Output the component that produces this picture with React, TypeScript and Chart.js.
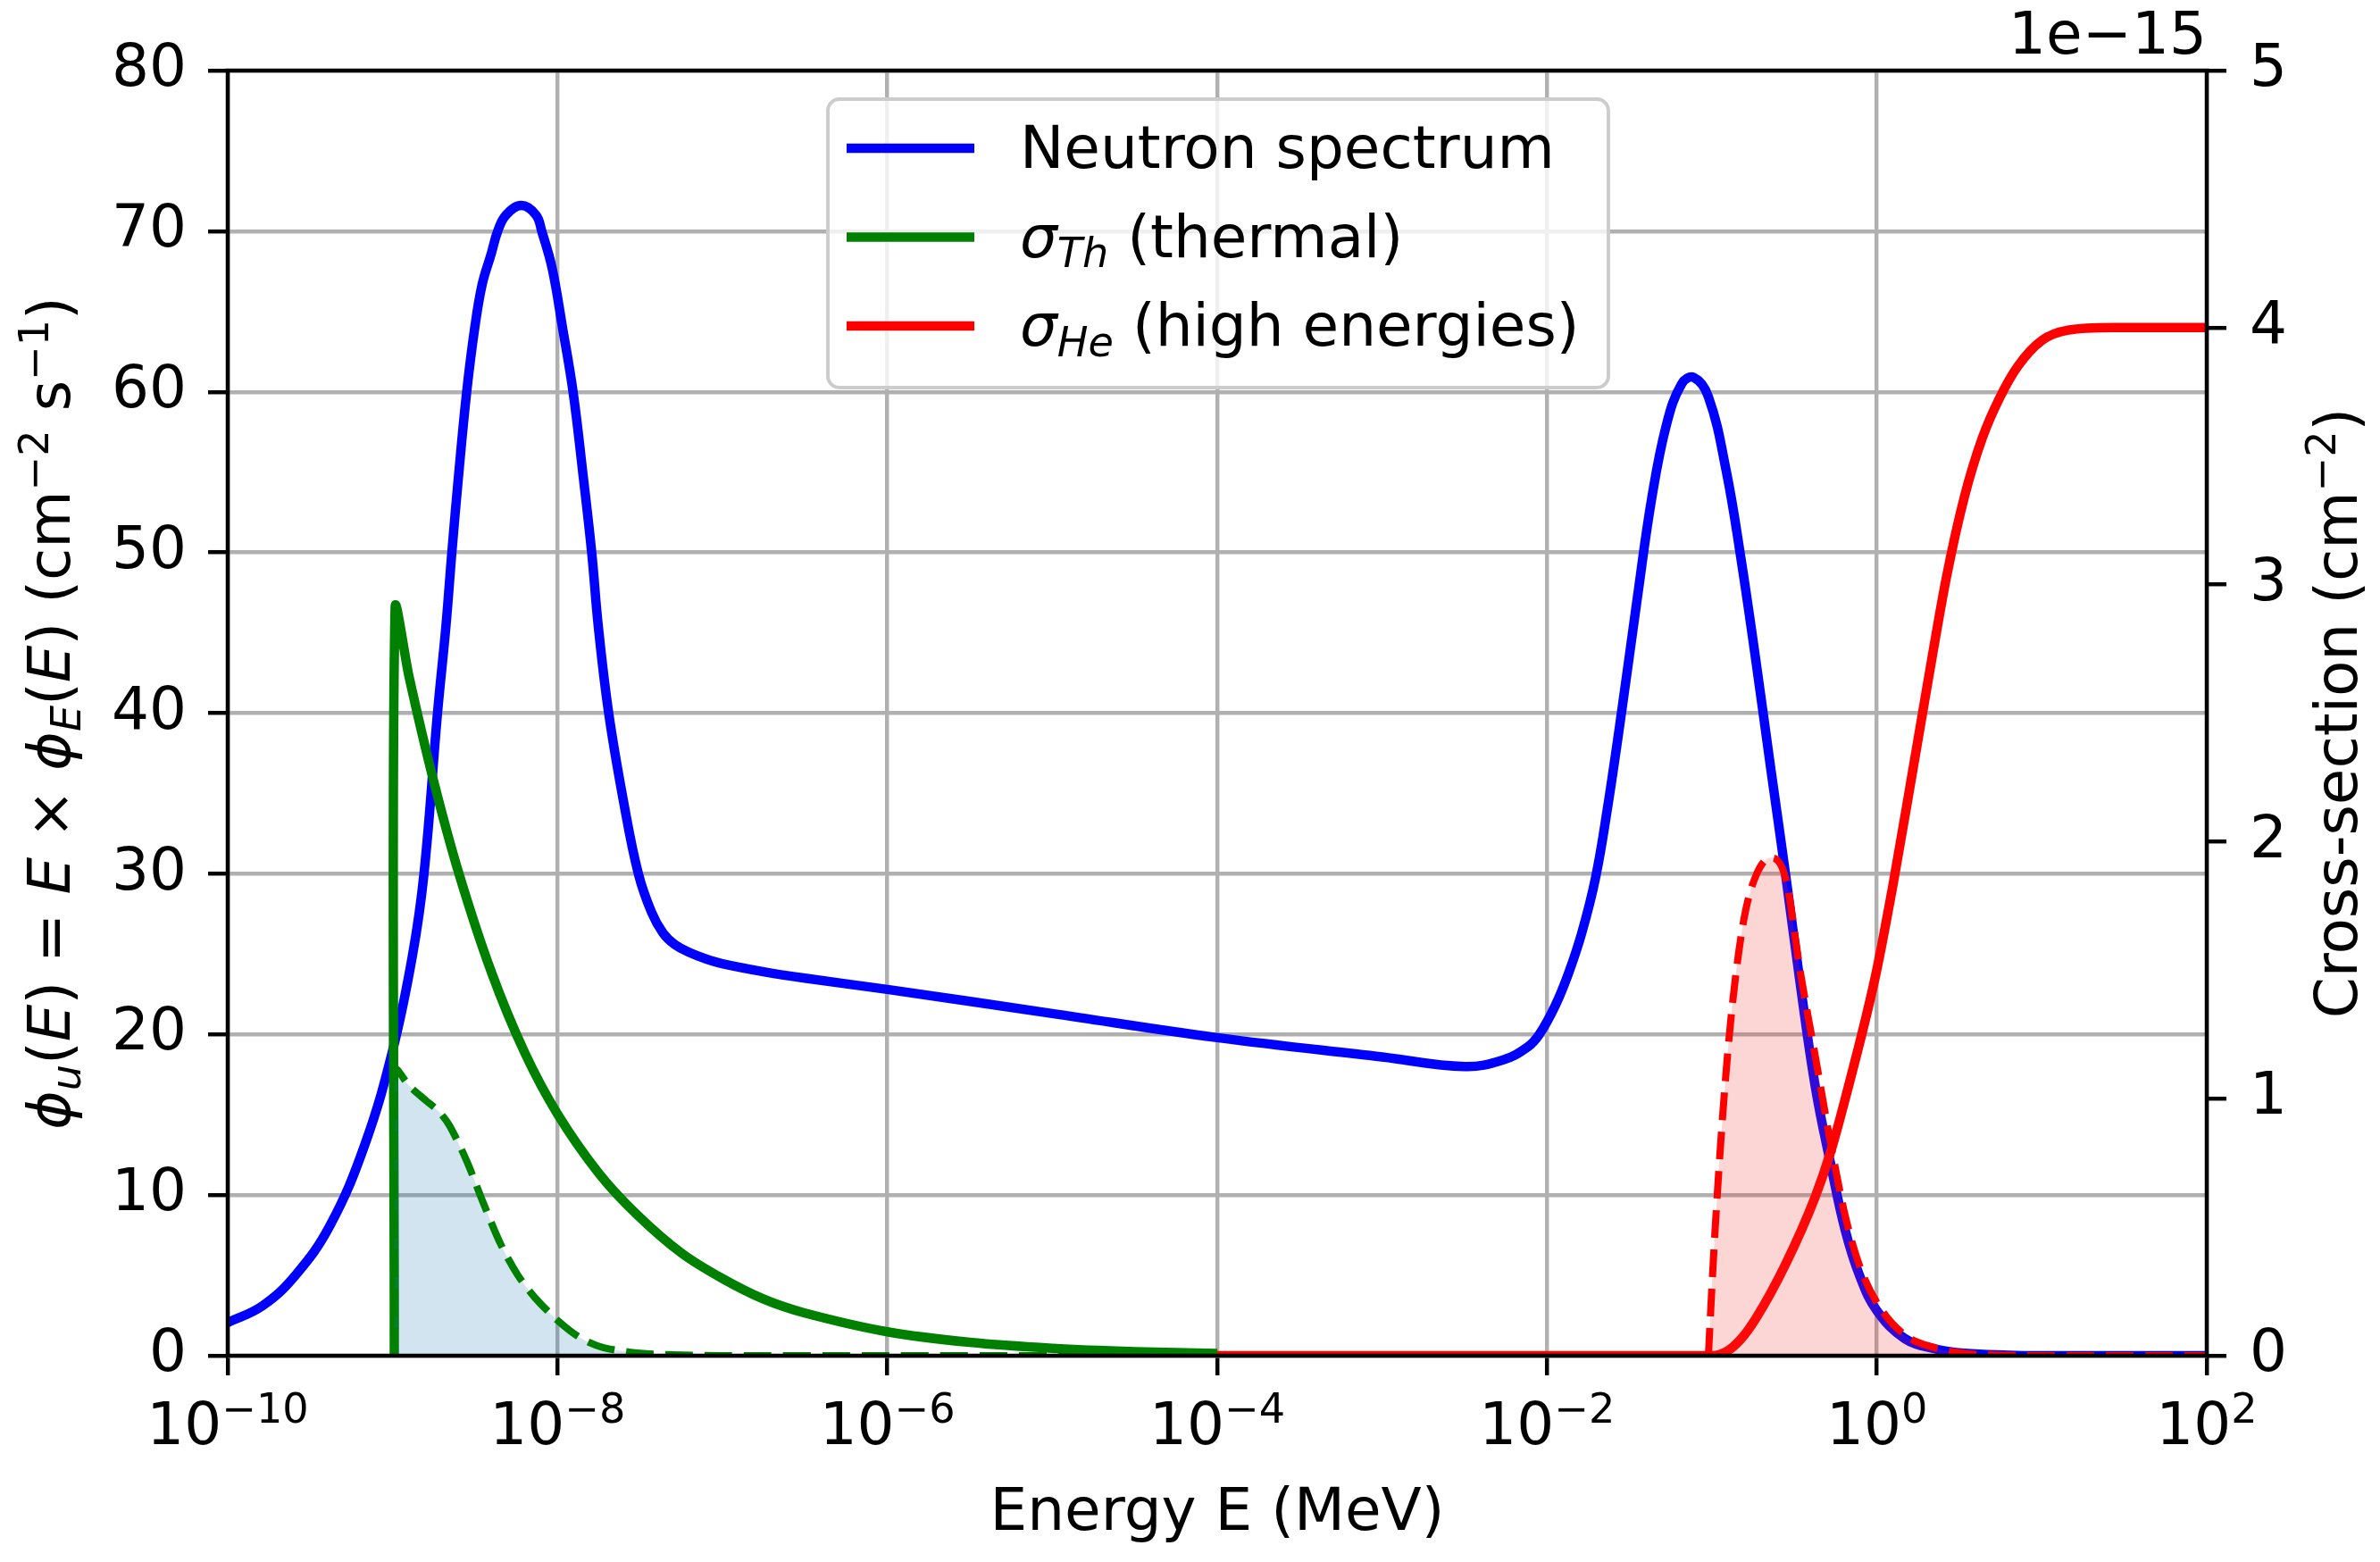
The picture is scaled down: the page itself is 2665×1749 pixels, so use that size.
import { useEffect, useRef } from 'react';
import { Chart, registerables } from 'chart.js';

Chart.register(...registerables);

const W = 2665;
const H = 1749;
const FONT = '"DejaVu Sans"';

// Neutron spectrum, E x phi_E(E) (cm^-2 s^-1) against log10(E / MeV)
const SPECTRUM_LOG_E = [
  -10, -9.79, -9.59, -9.38, -9.17, -9.0, -8.88, -8.81, -8.728, -8.677, -8.641, -8.601, -8.551,
  -8.502, -8.457, -8.402, -8.363, -8.313, -8.219, -8.13, -8.096, -8.033, -7.97, -7.906, -7.844,
  -7.793, -7.753, -7.69, -7.6, -7.51, -7.43, -7.36, -7.29, -7.2, -7.1, -7.0, -6.75, -6.5, -6.0,
  -5.0, -4.0, -3.0, -2.5, -2.27, -2.12, -2.047, -1.95, -1.87, -1.79, -1.707, -1.635, -1.545,
  -1.455, -1.365, -1.275, -1.184, -1.112, -1.022, -0.914, -0.824, -0.733, -0.643, -0.553,
  -0.463, -0.373, -0.282, -0.192, -0.102, 0.0, 0.168, 0.35, 0.53, 0.8, 1.0, 2.0,
];
const SPECTRUM_PHI = [
  2.06, 3.1, 5.0, 8.1, 13.1, 19.0, 24.9, 30.0, 40.0, 45.4, 50.0, 54.7, 60.0,
  64.0, 66.7, 68.6, 70.0, 71.0, 71.6, 71.0, 70.0, 67.7, 64.0, 60.0, 54.7,
  50.0, 45.4, 40.0, 34.5, 30.0, 27.6, 26.3, 25.6, 25.1, 24.7, 24.4, 23.9, 23.5, 22.8,
  21.3, 19.8, 18.6, 18.0, 18.4, 19.2, 20.0, 21.8, 23.8, 26.3, 29.7, 34.0, 40.3,
  47.0, 53.4, 58.0, 60.5, 60.9, 59.7, 55.1, 49.6, 43.2, 36.5, 29.9,
  23.0, 16.7, 12.0, 7.8, 4.9, 2.8, 1.07, 0.43, 0.15, 0.03, 0.0, 0.0,
];

// thermal cross-section (1e-15 cm^-2)
const THERMAL_LOG_E = [
  -8.99, -8.985, -8.9, -8.757, -8.6, -8.4, -8.2, -8.0, -7.75, -7.52, -7.25, -7.0, -6.75, -6.5,
  -6.0, -5.5, -5.0, -4.5, -4.0,
];
const THERMAL_SIGMA = [
  0, 2.91, 2.64, 2.25, 1.88, 1.49, 1.18, 0.94, 0.71, 0.55, 0.4, 0.3, 0.22, 0.166,
  0.093, 0.052, 0.029, 0.016, 0.009,
];

// thermal response (dashed green, left axis)
const THERMAL_RATE_LOG_E = [
  -8.99, -8.985, -8.9, -8.8, -8.72, -8.654, -8.55, -8.45, -8.343, -8.24, -8.136, -8.0, -7.86,
  -7.72, -7.5, -7.3, -7.0, -6.0, -5.0, -4.0,
];
const THERMAL_RATE = [
  0, 17.8, 16.8, 15.9, 15.2, 14.3, 12.1, 9.5, 6.9, 5.0, 3.6, 2.2, 1.1,
  0.5, 0.15, 0.05, 0.0, 0.0, 0.0, 0.0,
];

// high-energy cross-section (1e-15 cm^-2)
const HIGH_LOG_E = [
  -4.0, -1.0, -0.914, -0.824, -0.733, -0.553, -0.373, -0.282, -0.192, -0.011, 0.097, 0.205,
  0.314, 0.422, 0.53, 0.639, 0.747, 0.855, 1.0, 1.16, 1.43, 2.0,
];
const HIGH_SIGMA = [
  0, 0, 0.015, 0.065, 0.146, 0.357, 0.62, 0.79, 1.0, 1.47, 1.83, 2.23,
  2.64, 3.03, 3.34, 3.57, 3.73, 3.85, 3.95, 3.99, 4.0, 4.0,
];

// high-energy response (dashed red, left axis)
const HIGH_RATE_LOG_E = [
  -1.022, -0.986, -0.932, -0.878, -0.806, -0.733, -0.643, -0.553, -0.463, -0.373, -0.282,
  -0.192, -0.102, 0.006, 0.168, 0.35, 0.53, 0.8, 1.0, 2.0,
];
const HIGH_RATE = [
  0, 7.0, 15.4, 21.7, 27.2, 29.9, 31.0, 29.7, 23.8, 18.6, 13.3,
  8.7, 5.5, 3.2, 1.3, 0.5, 0.15, 0.03, 0, 0,
];

const X_TICK_EXPONENTS = [-10, -8, -6, -4, -2, 0, 2];

type Seg = { t: string; it?: boolean; sub?: boolean; sup?: boolean };

const LEGEND_ITEMS: { color: string; segs: Seg[] }[] = [
  { color: '#0000ff', segs: [{ t: 'Neutron spectrum' }] },
  { color: '#008000', segs: [{ t: 'σ', it: true }, { t: 'Th', it: true, sub: true }, { t: ' (thermal)' }] },
  { color: '#ff0000', segs: [{ t: 'σ', it: true }, { t: 'He', it: true, sub: true }, { t: ' (high energies)' }] },
];

const Y_TITLE: Seg[] = [
  { t: 'ϕ', it: true }, { t: 'u', it: true, sub: true }, { t: '(' }, { t: 'E', it: true }, { t: ')' },
  { t: ' = ' }, { t: 'E', it: true }, { t: ' × ' }, { t: 'ϕ', it: true }, { t: 'E', it: true, sub: true },
  { t: '(' }, { t: 'E', it: true }, { t: ')' }, { t: ' (cm' }, { t: '−2', sup: true }, { t: ' s' },
  { t: '−1', sup: true }, { t: ')' },
];
const Y2_TITLE: Seg[] = [{ t: 'Cross-section (cm' }, { t: '−2', sup: true }, { t: ')' }];

const toPoints = (logE: number[], vals: number[]) =>
  logE.map((l, i) => ({ x: Math.pow(10, l), y: vals[i] }));

function segFont(s: Seg, size: number) {
  const sz = s.sub || s.sup ? size * 0.7 : size;
  return `${s.it ? 'italic ' : ''}${sz}px ${FONT}`;
}

function segsWidth(ctx: CanvasRenderingContext2D, segs: Seg[], size: number) {
  let w = 0;
  for (const s of segs) {
    ctx.font = segFont(s, size);
    w += ctx.measureText(s.t).width;
  }
  return w;
}

function drawSegs(ctx: CanvasRenderingContext2D, segs: Seg[], x: number, y: number, size: number) {
  let cx = x;
  ctx.textAlign = 'left';
  ctx.textBaseline = 'alphabetic';
  for (const s of segs) {
    ctx.font = segFont(s, size);
    const dy = s.sub ? size * 0.18 : s.sup ? -size * 0.37 : 0;
    ctx.fillText(s.t, cx, y + dy);
    cx += ctx.measureText(s.t).width;
  }
}

const decorPlugin = {
  id: 'decor',
  afterDraw(chart: Chart) {
    const ctx = chart.ctx;
    const a = chart.chartArea;
    const size = 66;
    ctx.save();

    // spines on top of the lines
    ctx.strokeStyle = '#000';
    ctx.lineWidth = 4.5;
    ctx.strokeRect(a.left, a.top, a.right - a.left, a.bottom - a.top);

    ctx.fillStyle = '#000';
    // x tick labels 10^n
    const xs = chart.scales.x;
    for (const e of X_TICK_EXPONENTS) {
      const px = xs.getPixelForValue(Math.pow(10, e));
      const segs: Seg[] = [{ t: '10' }, { t: String(e).replace('-', '−'), sup: true }];
      const w = segsWidth(ctx, segs, size);
      drawSegs(ctx, segs, px - w / 2, 1617, size);
    }

    // x title
    ctx.font = `${size}px ${FONT}`;
    ctx.textAlign = 'center';
    ctx.fillText('Energy E (MeV)', (a.left + a.right) / 2, 1713);

    // offset text
    ctx.textAlign = 'right';
    ctx.fillText('1e−15', a.right, 60);

    // y titles
    const cy = (a.top + a.bottom) / 2;
    ctx.save();
    ctx.translate(78, cy);
    ctx.rotate(-Math.PI / 2);
    drawSegs(ctx, Y_TITLE, -segsWidth(ctx, Y_TITLE, size) / 2, 0, size);
    ctx.restore();
    ctx.save();
    ctx.translate(2639, cy);
    ctx.rotate(-Math.PI / 2);
    drawSegs(ctx, Y2_TITLE, -segsWidth(ctx, Y2_TITLE, size) / 2, 0, size);
    ctx.restore();

    // legend
    const lx = 927, ly = 111, lw = 874, lh = 323, r = 13;
    ctx.beginPath();
    ctx.roundRect(lx, ly, lw, lh, r);
    ctx.fillStyle = 'rgba(255,255,255,0.8)';
    ctx.fill();
    ctx.strokeStyle = '#cccccc';
    ctx.lineWidth = 4;
    ctx.stroke();
    LEGEND_ITEMS.forEach((item, i) => {
      const y = 166 + i * 99.5;
      ctx.strokeStyle = item.color;
      ctx.lineWidth = 10.5;
      ctx.lineCap = 'butt';
      ctx.beginPath();
      ctx.moveTo(948, y);
      ctx.lineTo(1091, y);
      ctx.stroke();
      ctx.fillStyle = '#000';
      drawSegs(ctx, item.segs, 1142, y + 22, size);
    });

    ctx.restore();
  },
};

export default function App() {
  const canvasRef = useRef<HTMLCanvasElement>(null);

  useEffect(() => {
    document.body.style.margin = '0';
    if (!canvasRef.current) return;
    Chart.defaults.font.family = FONT;

    const gridCommon = {
      color: '#b0b0b0',
      lineWidth: 4.4,
      tickColor: '#000',
      tickWidth: 4.5,
      tickLength: 22,
    };

    const chart = new Chart(canvasRef.current, {
      type: 'line',
      data: {
        datasets: [
          {
            label: 'Neutron spectrum',
            data: toPoints(SPECTRUM_LOG_E, SPECTRUM_PHI),
            yAxisID: 'y',
            borderColor: '#0000ff',
            borderWidth: 10.5,
            tension: 0.4,
            order: 5,
          },
          {
            label: 'sigma Th',
            data: toPoints(THERMAL_LOG_E, THERMAL_SIGMA),
            yAxisID: 'y2',
            borderColor: '#008000',
            borderWidth: 10.5,
            tension: 0.3,
            order: 4,
          },
          {
            label: 'sigma He',
            data: toPoints(HIGH_LOG_E, HIGH_SIGMA),
            yAxisID: 'y2',
            borderColor: '#ff0000',
            borderWidth: 10.5,
            cubicInterpolationMode: 'monotone',
            order: 3,
          },
          {
            label: 'thermal rate',
            data: toPoints(THERMAL_RATE_LOG_E, THERMAL_RATE),
            yAxisID: 'y',
            borderColor: '#008000',
            borderWidth: 8,
            borderDash: [31, 13],
            fill: 'origin',
            backgroundColor: 'rgba(31,119,180,0.2)',
            tension: 0.3,
            order: 2,
          },
          {
            label: 'high rate',
            data: toPoints(HIGH_RATE_LOG_E, HIGH_RATE),
            yAxisID: 'y',
            borderColor: '#ff0000',
            borderWidth: 8,
            borderDash: [31, 13],
            fill: 'origin',
            backgroundColor: 'rgba(240,50,45,0.2)',
            cubicInterpolationMode: 'monotone',
            order: 1,
          },
        ],
      },
      options: {
        responsive: false,
        animation: false,
        devicePixelRatio: 1,
        events: [],
        layout: { padding: { top: 79, left: 0, right: 0, bottom: 0 } },
        elements: {
          point: { radius: 0 },
          line: { tension: 0.4, borderJoinStyle: 'round', borderCapStyle: 'butt' },
        },
        datasets: { line: { clip: 0 } },
        plugins: { legend: { display: false }, tooltip: { enabled: false } },
        scales: {
          x: {
            type: 'logarithmic',
            min: 1e-10,
            max: 1e2,
            border: { display: false },
            grid: gridCommon,
            ticks: { display: false },
            afterBuildTicks: (scale: any) => {
              scale.ticks = X_TICK_EXPONENTS.map((e) => ({ value: Math.pow(10, e) }));
            },
            afterFit: (scale: any) => {
              scale.height = 231;
            },
          },
          y: {
            type: 'linear',
            position: 'left',
            min: 0,
            max: 80,
            border: { display: false },
            grid: gridCommon,
            ticks: { stepSize: 10, color: '#000', padding: 24, font: { size: 66, family: FONT } },
            afterFit: (scale: any) => {
              scale.width = 255;
            },
          },
          y2: {
            type: 'linear',
            position: 'right',
            min: 0,
            max: 5,
            border: { display: false },
            grid: { ...gridCommon, drawOnChartArea: false },
            ticks: { stepSize: 1, color: '#000', padding: 26, font: { size: 66, family: FONT } },
            afterFit: (scale: any) => {
              scale.width = W - 2471;
            },
          },
        },
      },
      plugins: [decorPlugin],
    } as any);

    return () => {
      chart.destroy();
    };
  }, []);

  return (
    <div style={{ width: W, height: H }}>
      <canvas ref={canvasRef} width={W} height={H} style={{ display: 'block', width: W, height: H }} />
    </div>
  );
}
